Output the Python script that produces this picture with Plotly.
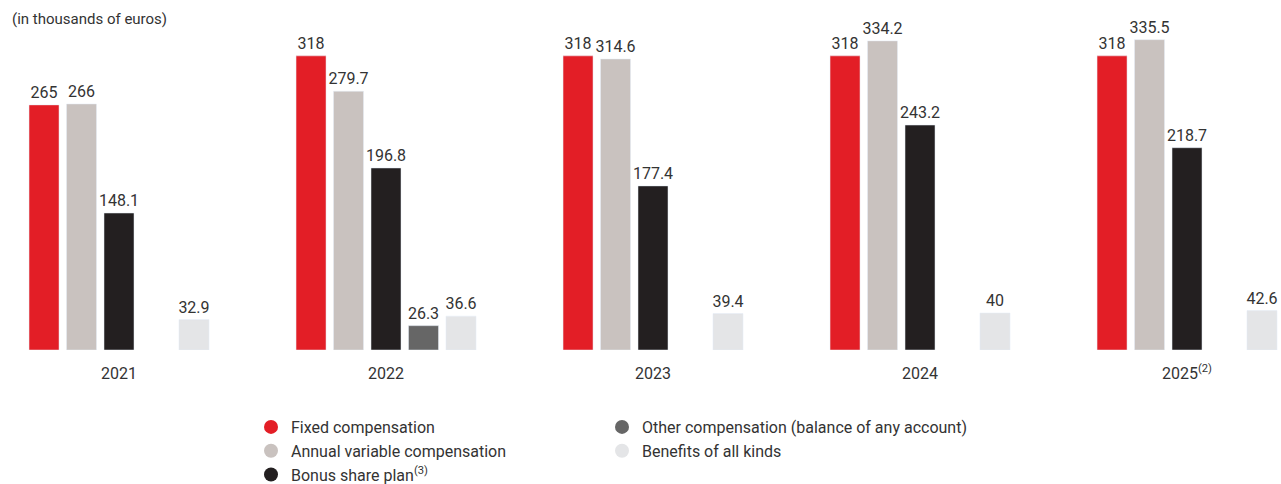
import plotly.graph_objects as go

years = ["2021", "2022", "2023", "2024", "2025<sup>(2)</sup>"]
fixed = [265, 318, 318, 318, 318]
annual = [266, 279.7, 314.6, 334.2, 335.5]
bonus = [148.1, 196.8, 177.4, 243.2, 218.7]
other = [None, 26.3, None, None, None]
benefits = [32.9, 36.6, 39.4, 40, 42.6]

series = [
    ("Fixed compensation", fixed, "#E31E26", "legend"),
    ("Annual variable compensation", annual, "#C9C2BF", "legend"),
    ("Bonus share plan<sup>(3)</sup>", bonus, "#231F20", "legend"),
    ("Other compensation (balance of any account)", other, "#666666", "legend2"),
    ("Benefits of all kinds", benefits, "#E4E5E7", "legend2"),
]

FONT = "Roboto"
fig = go.Figure()
for name, vals, color, lg in series:
    fig.add_trace(go.Bar(
        x=years, y=vals, marker_color=color, showlegend=False,
        text=[("" if v is None else f"{v:g}") for v in vals],
        textposition="outside", cliponaxis=False, constraintext="none",
        textfont=dict(family=FONT, size=16, color="#333333"),
    ))
for name, vals, color, lg in series:
    fig.add_trace(go.Scatter(
        x=[None], y=[None], mode="markers", name=name, legend=lg,
        marker=dict(symbol="circle", size=14, color=color),
    ))

legend_common = dict(yref="container", y=1 - 410/484, xanchor="left", yanchor="top",
                     orientation="v", font=dict(size=16, color="#333333"),
                     tracegroupgap=0, itemsizing="trace", bgcolor="rgba(0,0,0,0)")
fig.update_layout(
    width=1281, height=484,
    margin=dict(l=0, r=0, t=0, b=134, autoexpand=False),
    plot_bgcolor="white", paper_bgcolor="white",
    barmode="group", bargap=0.298, bargroupgap=0.2,
    uniformtext=dict(mode=False),
    font=dict(family=FONT, size=15, color="#333333"),
    xaxis=dict(range=[-0.4457, 4.352], showgrid=False, zeroline=False,
               showline=False, ticks="", tickfont=dict(size=16, color="#333333"),
               ticklabelstandoff=12, automargin=False),
    yaxis=dict(range=[0, 378.4], visible=False, showgrid=False, automargin=False),
    legend=dict(x=251/1281, **legend_common),
    legend2=dict(x=602/1281, **legend_common),
    annotations=[dict(text="(in thousands of euros)", x=10/1281, y=(350-19)/350,
                      xref="paper", yref="paper", xanchor="left", yanchor="middle",
                      showarrow=False, font=dict(size=15, color="#333333"))],
)
fig.write_html("out.html")
